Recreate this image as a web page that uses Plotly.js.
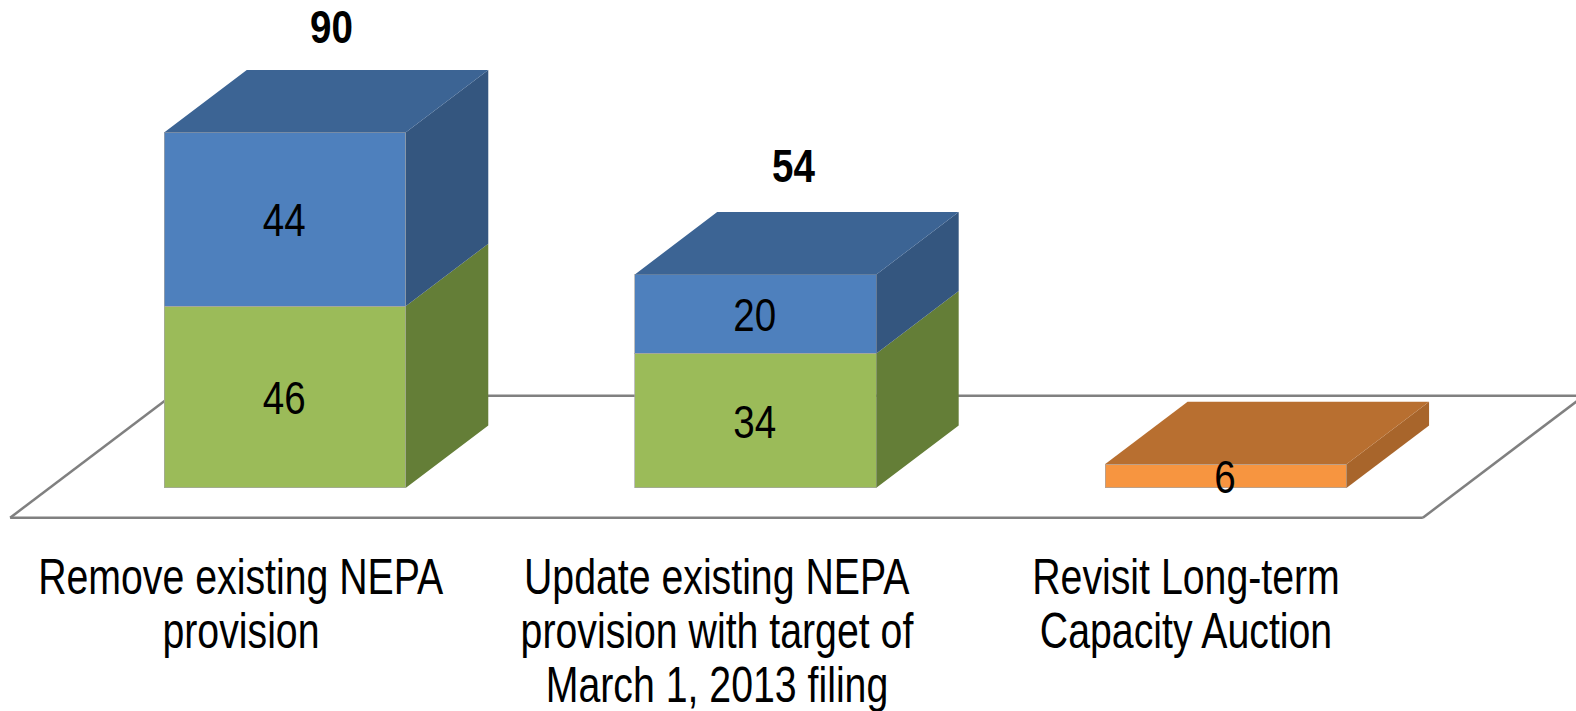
<!DOCTYPE html>
<html>
<head>
<meta charset="utf-8">
<script src="https://cdn.plot.ly/plotly-3.0.1.min.js"></script>
<style>html,body{margin:0;padding:0;background:#fff}#chart{width:1576px;height:711px}</style>
</head>
<body>
<div id="chart"></div>
<script>
// ---- data ----
const categoryLines = [
  ["Remove existing NEPA", "provision"],
  ["Update existing NEPA", "provision with target of", "March 1, 2013 filing"],
  ["Revisit Long-term", "Capacity Auction"]
];
const positions = [0, 1, 2];
const green = [46, 34, null];
const blue = [44, 20, null];
const orange = [null, null, 6];
const totals = [90, 54, null];

// ---- styling and geometry (axis units) ----
const FONT = '"Liberation Sans", Arial, sans-serif';
const narrowValues = 0.82, narrowLabels = 0.785;
const barWidth = 0.5134, depthX = 0.175, depthY = 15.77;
const series = [
  {v: green, front: '#9BBB59', side: '#647E37', top: '#647E37'},
  {v: blue, front: '#4E80BD', side: '#34567F', top: '#3C6494'},
  {v: orange, front: '#F79540', side: '#A8652B', top: '#B86F30'}
];
const labelX = [-0.0945, -0.0816, -0.0860];
const totalX = [0.0985, 0.0805];
const totalLift = [25.6, 26.3];
const labelTop = -22.6, labelStep = 13.67;
const floor = {left: -0.5847, right: 2.4184, near: -7.6, far: 23.3};

const traces = [];
const stackTop = positions.map(() => 0);
const textX = [], textY = [], textS = [];
series.forEach(s => {
  traces.push({
    type: 'bar', x: positions, y: s.v, width: barWidth,
    marker: {color: s.front, line: {color: 'rgba(165,165,165,0.7)', width: 1}},
    hoverinfo: 'y', showlegend: false
  });
  const sx = [], sy = [], tx = [], ty = [];
  positions.forEach((p, i) => {
    const val = s.v[i];
    if (val == null) return;
    const lo = stackTop[i], hi = lo + val;
    const r = p + barWidth / 2, l = p - barWidth / 2;
    sx.push(r, r + depthX, r + depthX, r, r, null);
    sy.push(lo, lo + depthY, hi + depthY, hi, lo, null);
    const isTop = series.every(o => o === s || o.v[i] == null || series.indexOf(o) < series.indexOf(s));
    if (isTop) {
      tx.push(l, r, r + depthX, l + depthX, l, null);
      ty.push(hi, hi, hi + depthY, hi + depthY, hi, null);
    }
    textX.push(p - 0.002); textY.push(lo + val / 2 - 1.4); textS.push(String(val));
    stackTop[i] = hi;
  });
  traces.push({type: 'scatter', mode: 'lines', x: sx, y: sy, fill: 'toself', fillcolor: s.side,
    line: {width: 0, color: s.side}, hoverinfo: 'skip', showlegend: false});
  if (tx.length) traces.push({type: 'scatter', mode: 'lines', x: tx, y: ty, fill: 'toself', fillcolor: s.top,
    line: {width: 0, color: s.top}, hoverinfo: 'skip', showlegend: false});
});

traces.push({type: 'scatter', mode: 'text', x: textX, y: textY, text: textS, textposition: 'middle center',
  textfont: {family: FONT, size: 47, color: '#000'}, hoverinfo: 'skip', showlegend: false});

const totIdx = positions.filter((p, i) => totals[i] != null);
traces.push({type: 'scatter', mode: 'text',
  x: totIdx.map((p, i) => p + totalX[i]),
  y: totIdx.map(i => stackTop[i] + totalLift[i]),
  text: totIdx.map(i => '<b>' + totals[i] + '</b>'),
  textposition: 'middle center',
  textfont: {family: FONT, size: 47, color: '#000'}, hoverinfo: 'skip', showlegend: false});

const annotations = [];
categoryLines.forEach((lines, i) => lines.forEach((t, k) => annotations.push({
  xref: 'x', yref: 'y', x: positions[i] + labelX[i], y: labelTop - k * labelStep,
  text: t, showarrow: false, xanchor: 'center', yanchor: 'middle', width: 540,
  font: {family: FONT, size: 50, color: '#000'}
})));

const floorLine = (x0, y0, x1, y1) => ({type: 'line', layer: 'below', xref: 'x', yref: 'y', x0, y0, x1, y1,
  line: {color: '#808080', width: 2.5}});
const dxFloor = (floor.far - floor.near) / depthY * depthX;
const shapes = [
  floorLine(floor.left, floor.near, floor.right, floor.near),
  floorLine(floor.left + dxFloor, floor.far, floor.right + dxFloor, floor.far),
  floorLine(floor.left, floor.near, floor.left + dxFloor, floor.far),
  floorLine(floor.right, floor.near, floor.right + dxFloor, floor.far)
];

Plotly.newPlot('chart', traces, {
  width: 1576, height: 711,
  margin: {l: 0, r: 0, t: 0, b: 0},
  paper_bgcolor: '#fff', plot_bgcolor: '#fff',
  barmode: 'stack', showlegend: false,
  xaxis: {range: [-0.6063, 2.7440], visible: false, fixedrange: true},
  yaxis: {range: [-56.53, 123.47], visible: false, fixedrange: true},
  shapes, annotations
}, {displayModeBar: false, staticPlot: true}).then(gd => {
  // The reference uses a condensed face: squeeze the real text glyphs horizontally.
  const squeeze = (sel, k) => gd.querySelectorAll(sel).forEach(t => {
    t.setAttribute('textLength', t.getComputedTextLength() * k);
    t.setAttribute('lengthAdjust', 'spacingAndGlyphs');
  });
  squeeze('.annotation-text', narrowLabels);
  squeeze('.textpoint text', narrowValues);
});
</script>
</body>
</html>
